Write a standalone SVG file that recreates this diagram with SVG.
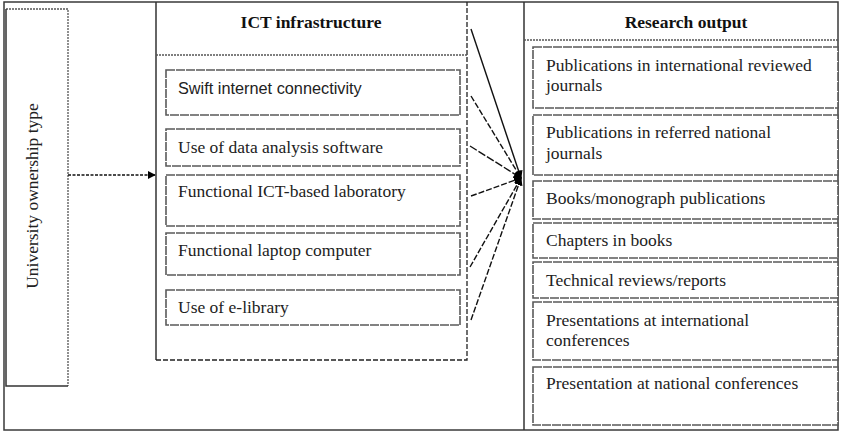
<svg xmlns="http://www.w3.org/2000/svg" width="842" height="432" viewBox="0 0 842 432">
<defs>
<style>
.frame{fill:none;stroke:#3a3a3a;stroke-width:1.5}
.dot{fill:none;stroke:#555;stroke-width:1.3;stroke-dasharray:2 1}
.box{fill:#fff;stroke:#5a5a5a;stroke-width:1.6;stroke-dasharray:9 1}
.solid{fill:none;stroke:#333;stroke-width:1.5}
.dash{fill:none;stroke:#222;stroke-width:1.3;stroke-dasharray:5 2}
.t{font-family:"Liberation Serif","Times New Roman",serif;font-size:17.5px;fill:#222}
.ts{font-family:"Liberation Sans",Arial,sans-serif;font-size:16.3px;fill:#222}
.h{font-family:"Liberation Serif","Times New Roman",serif;font-size:17.5px;font-weight:bold;fill:#111}
.con{fill:none;stroke:#111;stroke-width:1.4}
</style>
<marker id="ah" viewBox="0 0 10 10" refX="9" refY="5" markerWidth="8" markerHeight="8" orient="auto" markerUnits="userSpaceOnUse">
<path d="M0,0 L10,5 L0,10 z" fill="#000"/>
</marker>
</defs>
<rect x="0" y="0" width="842" height="432" fill="#fff"/>
<g id="outer-frame">
<rect class="frame" x="4" y="2" width="834" height="428"/>
</g>
<g id="university-ownership">
<path class="dot" d="M6,9 H68 V386"/>
<path class="solid" d="M6,9 V386 H68"/>
<text class="t" transform="translate(38,196) rotate(-90)" text-anchor="middle">University  ownership type</text>
</g>
<g id="ict-infrastructure">
<path class="solid" d="M156,2 V360"/>
<path class="dash" d="M156,360 H467 V2"/>
<path class="dot" d="M156,55 H467"/>
<text class="h" x="311" y="28" text-anchor="middle">ICT infrastructure</text>
</g>
<g id="ict-swift">
<rect class="box" x="166" y="70" width="294" height="45"/>
<text class="ts" x="178" y="94">Swift internet connectivity</text>
</g>
<g id="ict-software">
<rect class="box" x="166" y="129" width="294" height="37"/>
<text class="t" x="178" y="153">Use of data analysis software</text>
</g>
<g id="ict-lab">
<rect class="box" x="166" y="175" width="294" height="51"/>
<text class="t" x="178" y="197">Functional ICT-based laboratory</text>
</g>
<g id="ict-laptop">
<rect class="box" x="166" y="233" width="294" height="42"/>
<text class="t" x="178" y="256">Functional laptop computer</text>
</g>
<g id="ict-elibrary">
<rect class="box" x="166" y="290" width="294" height="35"/>
<text class="t" x="178" y="313">Use of e-library</text>
</g>
<g id="research-output">
<path class="solid" d="M524,2 V430"/>
<path class="dot" d="M524,40 H838"/>
<text class="h" x="686" y="28" text-anchor="middle">Research output</text>
</g>
<g id="ro-intl-journals">
<rect class="box" x="533" y="47" width="305" height="61"/>
<text class="t" x="546" y="71">Publications in international reviewed</text>
<text class="t" x="546" y="91">journals</text>
</g>
<g id="ro-national-journals">
<rect class="box" x="533" y="115" width="305" height="60"/>
<text class="t" x="546" y="138">Publications in referred national</text>
<text class="t" x="546" y="159">journals</text>
</g>
<g id="ro-books">
<rect class="box" x="533" y="181" width="305" height="38"/>
<text class="t" x="546" y="204">Books/monograph publications</text>
</g>
<g id="ro-chapters">
<rect class="box" x="533" y="223" width="305" height="35"/>
<text class="t" x="546" y="246">Chapters in books</text>
</g>
<g id="ro-technical">
<rect class="box" x="533" y="262" width="305" height="36"/>
<text class="t" x="546" y="286">Technical reviews/reports</text>
</g>
<g id="ro-intl-conf">
<rect class="box" x="533" y="302" width="305" height="58"/>
<text class="t" x="546" y="326">Presentations at international</text>
<text class="t" x="546" y="346">conferences</text>
</g>
<g id="ro-national-conf">
<rect class="box" x="533" y="367" width="305" height="58"/>
<text class="t" x="546" y="389">Presentation at national conferences</text>
</g>
<g id="connectors">
<line class="con" x1="68" y1="175" x2="155" y2="175" stroke-dasharray="3 1.5" marker-end="url(#ah)"/>
<line class="con" x1="471" y1="29" x2="521" y2="178" marker-end="url(#ah)"/>
<line class="con" x1="471" y1="96" x2="521" y2="178" stroke-dasharray="6 2" marker-end="url(#ah)"/>
<line class="con" x1="470" y1="146" x2="521" y2="178" stroke-dasharray="8 2" marker-end="url(#ah)"/>
<line class="con" x1="471" y1="196" x2="521" y2="178" stroke-dasharray="6 2" marker-end="url(#ah)"/>
<line class="con" x1="470" y1="267" x2="521" y2="178" stroke-dasharray="6 2" marker-end="url(#ah)"/>
<line class="con" x1="471" y1="320" x2="521" y2="178" stroke-dasharray="6 2" marker-end="url(#ah)"/>
</g>
</svg>
